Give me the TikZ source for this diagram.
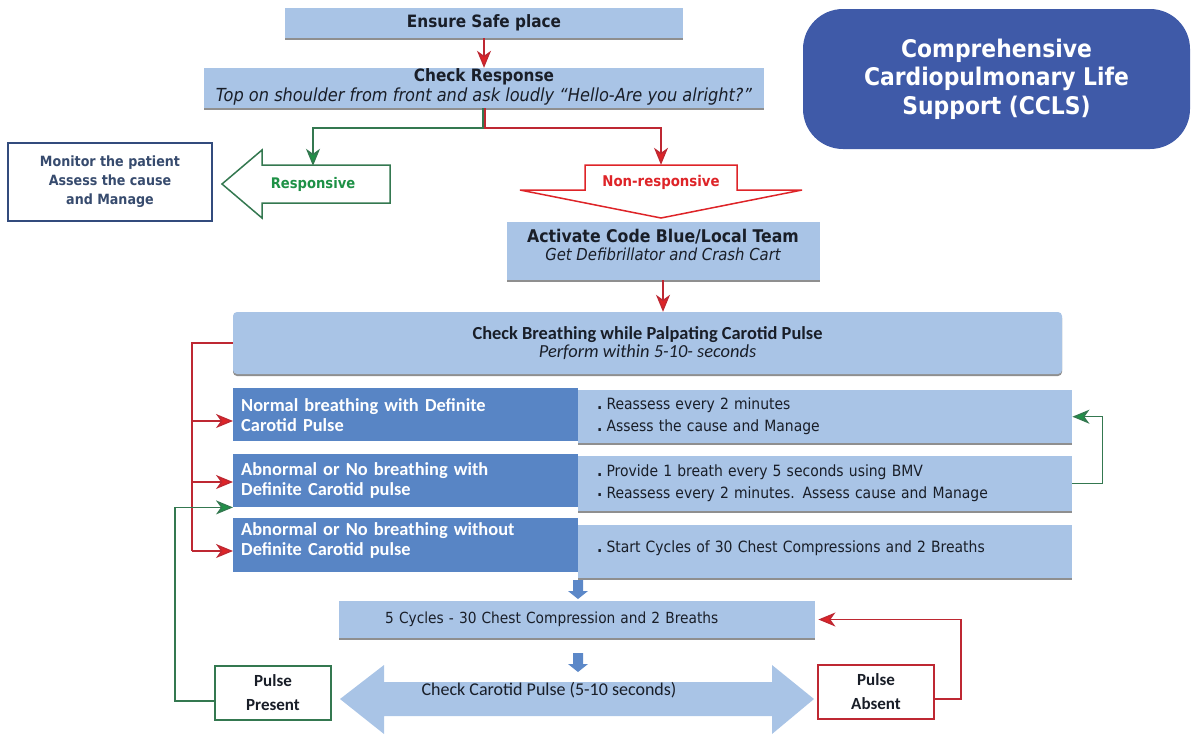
\documentclass[tikz,border=0pt]{standalone}
\usepackage{fontspec}
\setmainfont{DejaVu Sans Condensed}
\newfontfamily\calfont{Carlito}
\usetikzlibrary{arrows.meta,shadows,calc}

\definecolor{lightfill}{RGB}{169,196,230}
\definecolor{darkfill}{RGB}{88,133,197}
\definecolor{titlefill}{RGB}{63,90,168}
\definecolor{redc}{RGB}{222,36,40}
\definecolor{redline}{RGB}{190,40,50}
\definecolor{greenc}{RGB}{30,145,70}
\definecolor{greenline}{RGB}{52,120,80}
\definecolor{navyline}{RGB}{50,75,125}
\definecolor{navytext}{RGB}{55,75,110}
\definecolor{textc}{RGB}{25,30,40}
\definecolor{smallarrow}{RGB}{92,136,200}

\tikzset{
  lightbox/.style={fill=lightfill, draw=none, inner sep=0pt, align=center, text=textc,
    drop shadow={shadow xshift=0pt, shadow yshift=-2pt, fill=black!55, opacity=0.8}},
  darkbox/.style={fill=darkfill, draw=none, inner xsep=8pt, inner ysep=0pt, align=left,
    text=white, font=\calfont\bfseries\fontsize{18.4}{20}\selectfont, anchor=north west},
  itembox/.style={lightbox, align=left, inner xsep=19pt, anchor=north west,
    font=\fontsize{15.5}{22}\selectfont},
  tipred/.tip={Stealth[length=17pt,width=14pt,inset=5pt,fill=redc]},
  tipgreen/.tip={Stealth[length=17pt,width=14pt,inset=5pt,fill=greenc]},
  redarrow/.style={draw=redline, line width=1.3pt, -tipred},
  greenarrow/.style={draw=greenline, line width=1.3pt, -tipgreen},
  redplain/.style={draw=redline, line width=1.3pt},
  greenplain/.style={draw=greenline, line width=1.3pt},
  blockred/.style={draw=redc, line width=1.5pt, fill=white, line join=miter},
  blockgreen/.style={draw=greenline, line width=1.5pt, fill=white, line join=miter},
  pulsebox/.style={fill=white, line width=1.5pt, minimum width=116pt, minimum height=54pt,
    align=center, inner sep=0pt, text=textc, font=\calfont\bfseries\fontsize{17}{24}\selectfont},
  smallblue/.style={fill=smallarrow, draw=none}
}
\newcommand\dotmark{{\bfseries .}\hspace{4pt}}
\newcommand\middotmark{\raisebox{2.5pt}{\bfseries .}\hspace{4pt}}

\begin{document}
\begin{tikzpicture}[x=1pt,y=-1pt]
\useasboundingbox (0,0) rectangle (1193,734);

% title panel
\node[fill=titlefill, rounded corners=40pt, minimum width=387pt, minimum height=140pt,
      text=white, align=center, font=\bfseries\fontsize{24.3}{28.5}\selectfont] (title) at (996.5,79)
  {Comprehensive\\Cardiopulmonary Life\\Support (CCLS)};

% opening steps
\node[lightbox, minimum width=398pt, minimum height=30pt, font=\bfseries\fontsize{17}{20}\selectfont] (safe) at (484,23) {Ensure Safe place};
\node[lightbox, minimum width=560pt, minimum height=40pt, text depth=6pt] (resp) at (484,88)
  {{\bfseries\fontsize{17}{18}\selectfont Check Response}\\[1pt]{\itshape\fontsize{18}{18}\selectfont Top on shoulder from front and ask loudly ``Hello-Are you alright?''}};

\node[draw=navyline, line width=1.3pt, fill=white, minimum width=204pt, minimum height=78pt,
      align=center, text=navytext, font=\bfseries\fontsize{14.1}{19}\selectfont] (monitor) at (110,182)
  {Monitor the patient\\Assess the cause\\and Manage};

% block arrow: responsive (points left)
\draw[blockgreen] (390,165) -- (390,203) -- (262,203) -- (262,218) -- (222,184) -- (262,150) -- (262,165) -- cycle;
\node[text=greenc, font=\bfseries\fontsize{14.6}{16}\selectfont, minimum height=36pt, inner sep=0pt] (responsive) at (313,184) {Responsive};

% block arrow: non-responsive (points down)
\draw[blockred] (585,165) -- (737,165) -- (737,190) -- (802,190) -- (661,218) -- (520,190) -- (585,190) -- cycle;
\node[text=redc, font=\bfseries\fontsize{14.8}{16}\selectfont, minimum height=34pt, inner sep=0pt] (nonresp) at (661,182) {Non-responsive};

\node[lightbox, minimum width=313pt, minimum height=58pt, text depth=12pt] (team) at (663,251)
  {{\bfseries\fontsize{17.5}{20}\selectfont Activate Code Blue/Local Team}\\[3pt]{\itshape\fontsize{16.5}{20}\selectfont Get Defibrillator and Crash Cart}};

\node[lightbox, rounded corners=4pt, minimum width=829pt, minimum height=62pt, font=\calfont] (breath) at (647.5,343)
  {{\bfseries\fontsize{18.4}{20}\selectfont Check Breathing while Palpating Carotid Pulse}\\[1pt]{\itshape\fontsize{18.4}{20}\selectfont Perform within 5-10- seconds}};

% assessment rows
\node[darkbox, text width=329pt, minimum height=53pt] (rowA) at (233,388) {Normal breathing with Definite\\Carotid Pulse};
\node[itembox, text width=456pt, minimum height=53pt] (itemA) at (578,390)
  {\dotmark Reassess every 2 minutes\\\dotmark Assess the cause and Manage};

\node[darkbox, text width=329pt, minimum height=53pt] (rowB) at (233,454) {Abnormal or No breathing with\\Definite Carotid pulse};
\node[itembox, text width=456pt, minimum height=55pt] (itemB) at (578,456)
  {\dotmark Provide 1 breath every 5 seconds using BMV\\\middotmark Reassess every 2 minutes. Assess cause and Manage};

\node[darkbox, text width=329pt, minimum height=54pt, text depth=32pt] (rowC) at (233,518) {Abnormal or No breathing without\\Definite Carotid pulse};
\node[itembox, text width=456pt, minimum height=53pt, text depth=10pt] (itemC) at (578,525)
  {\dotmark Start Cycles of 30 Chest Compressions and 2 Breaths};

% compressions
\node[lightbox, minimum width=476pt, minimum height=37pt, inner xsep=46pt, text width=384pt,
      align=left, anchor=west, font=\fontsize{15.3}{20}\selectfont] (cycles) at (339,619.5)
  {5 Cycles - 30 Chest Compression and 2 Breaths};

% short block arrows
\fill[smallblue] (573,580) -- (583,580) -- (583,591) -- (588,591) -- (578,599) -- (568,591) -- (573,591) -- cycle;
\fill[smallblue] (573,653) -- (583,653) -- (583,664) -- (588,664) -- (578,672) -- (568,664) -- (573,664) -- cycle;

% double block arrow
\fill[lightfill] (340,699) -- (384,665) -- (384,682) -- (772,682) -- (772,665) -- (814,699) -- (772,734) -- (772,716) -- (384,716) -- (384,734) -- cycle;
\node[font=\calfont\fontsize{18}{20}\selectfont, text=textc] (carotid) at (549,690) {Check Carotid Pulse (5-10 seconds)};

\node[pulsebox, draw=greenline] (present) at (273,693) {Pulse\\Present};
\node[pulsebox, draw=redline] (absent) at (876,692) {Pulse\\Absent};

% connectors
\coordinate (fork) at (484,128);
\draw[redarrow] (safe) -- (resp);
\draw[greenplain] ($(resp.south)+(-1,0)$) -- ($(fork)+(-1,0)$);
\draw[redplain] ($(resp.south)+(1,0)$) -- ($(fork)+(1,0)$);
\draw[greenarrow] (fork) -| (responsive.north);
\draw[redarrow] (fork) -| (nonresp.north);
\draw[redarrow] (team.south) -- (team.south |- breath.north);

\coordinate (bracket) at (192,343);
\draw[redplain] (breath.west) -- (bracket) -- (bracket |- 0,551);
\draw[redarrow] (bracket |- 0,421) -- (rowA.west |- 0,421);
\draw[redarrow] (bracket |- 0,482) -- (rowB.west |- 0,482);
\draw[redarrow] (bracket |- 0,551) -- (rowC.west |- 0,551);

\coordinate (gback) at (175,701);
\draw[greenarrow] (present.west |- gback) -- (gback) |- (rowB.south west);
\draw[greenarrow] (itemB.east) -- ++(30,0) |- (itemA.east);

\draw[redarrow, shorten >=3pt] (absent.east |- 0,699) -- (961,699) |- (cycles.east);
\end{tikzpicture}
\end{document}
